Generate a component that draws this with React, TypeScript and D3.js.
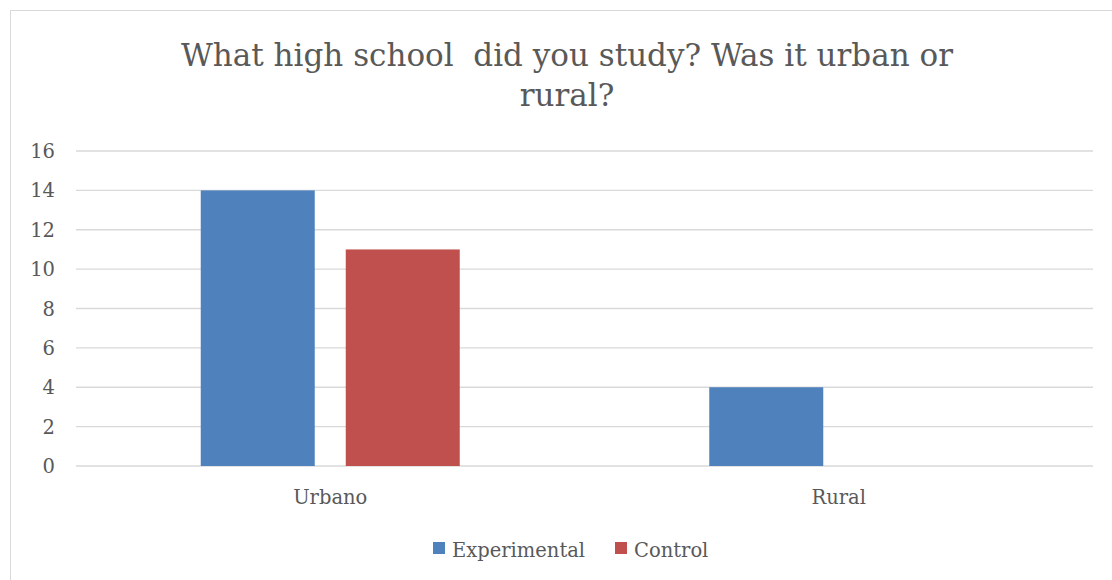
import React from "react";
import * as d3 from "d3";

const categories = ["Urbano", "Rural"];
const seriesNames = ["Experimental", "Control"];
const experimental = [14, 4];
const control = [11, 0];
const yTicks = [0, 2, 4, 6, 8, 10, 12, 14, 16];
const titleLines = ["What high school  did you study? Was it urban or", "rural?"];

const W = 1112;
const H = 580;
const FONT = "'DejaVu Serif', 'Liberation Serif', serif";
const TEXT = "#595959";
const COLORS = ["#4F81BD", "#C0504D"];

export default function App() {
  const plot = { left: 76, right: 1093, top: 151, bottom: 466 };
  const x = d3.scaleBand<string>().domain(categories).range([plot.left, plot.right]);
  const inner = d3
    .scaleBand<string>()
    .domain(seriesNames)
    .range([0, 259])
    .paddingInner(31 / 145);
  const y = d3.scaleLinear().domain([0, 16]).range([plot.bottom, plot.top]);
  const values = [experimental, control];

  return (
    <svg
      width={W}
      height={H}
      style={{ position: "absolute", left: 0, top: 0, background: "#fff" }}
    >
      <rect x={10.5} y={10.5} width={1130} height={600} fill="#fff" stroke="#D9D9D9" strokeWidth={1} />
      {titleLines.map((t, i) => (
        <text
          key={i}
          x={567}
          y={66 + i * 40}
          textAnchor="middle"
          fontFamily={FONT}
          fontSize={31}
          fill={TEXT}
          style={{ whiteSpace: "pre" }}
        >
          {t}
        </text>
      ))}
      {yTicks.map((t) => (
        <g key={t}>
          <line x1={plot.left} x2={plot.right} y1={y(t)} y2={y(t)} stroke="#D9D9D9" strokeWidth={1.3} />
          <text
            x={55}
            y={y(t)}
            dy="0.36em"
            textAnchor="end"
            fontFamily={FONT}
            fontSize={19.5}
            fill={TEXT}
          >
            {t}
          </text>
        </g>
      ))}
      {categories.map((c, ci) => {
        const cx = (x(c) ?? 0) + x.bandwidth() / 2;
        const g0 = cx - 129.5;
        return (
          <g key={c}>
            {seriesNames.map((s, si) => {
              const v = values[si][ci];
              if (!v) return null;
              return (
                <rect
                  key={s}
                  x={g0 + (inner(s) ?? 0)}
                  y={y(v)}
                  width={inner.bandwidth()}
                  height={y(0) - y(v)}
                  fill={COLORS[si]}
                />
              );
            })}
            <text
              x={cx}
              y={504}
              textAnchor="middle"
              fontFamily={FONT}
              fontSize={19.5}
              fill={TEXT}
            >
              {c}
            </text>
          </g>
        );
      })}
      {seriesNames.map((s, si) => {
        const lx = si === 0 ? 433 : 615;
        return (
          <g key={s}>
            <rect x={lx} y={542} width={12} height={12} fill={COLORS[si]} />
            <text x={lx + 19} y={557} fontFamily={FONT} fontSize={19.5} fill={TEXT}>
              {s}
            </text>
          </g>
        );
      })}
    </svg>
  );
}
